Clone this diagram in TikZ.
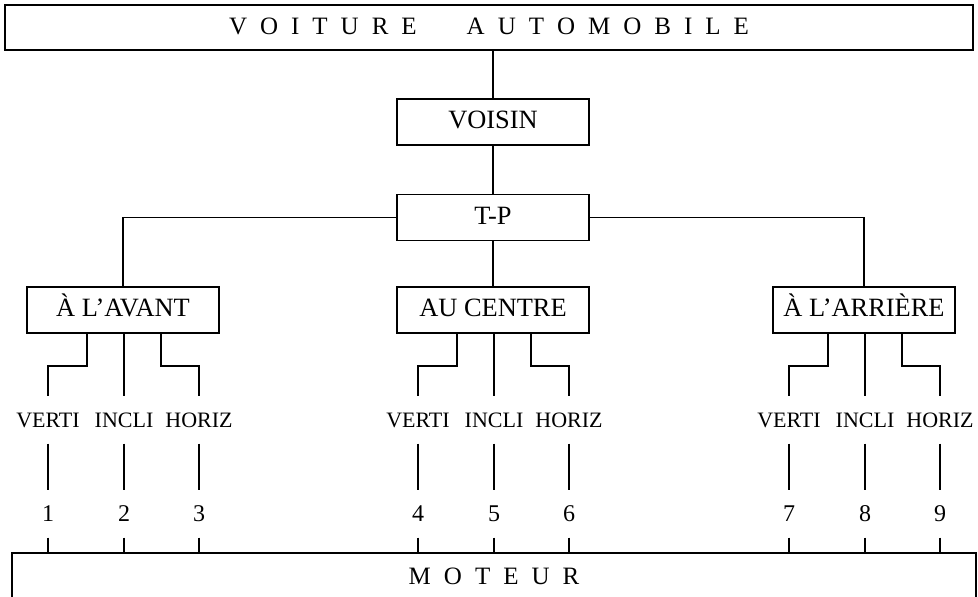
\documentclass[tikz,border=0pt]{standalone}
\usepackage{fontspec}
\setmainfont{Liberation Serif}
\usetikzlibrary{positioning}

\newcommand{\lsp}{\hspace{0.52em}}

\tikzset{
  box/.style={draw, inner sep=0pt, minimum width=96pt, minimum height=23pt,
    text height=0.7em, text depth=0pt, font=\fontsize{13.2}{15}\selectfont},
  lbl/.style={inner sep=0pt, minimum height=23pt, text height=0.8em, text depth=0pt,
    font=\fontsize{11}{13}\selectfont},
  num/.style={inner sep=0pt, minimum height=23pt, text height=0.75em, text depth=0pt,
    font=\fontsize{12}{14}\selectfont},
}

\begin{document}
\begin{tikzpicture}[x=0.5pt, y=-0.5pt, line width=0.7pt]
  \clip (0,0) rectangle (978,597);

  % Frames at top and bottom.
  \node[box, minimum width=484pt, minimum height=22.5pt, font=\fontsize{12.5}{15}\selectfont] (car) at (489,27.5)
    {V\lsp O\lsp I\lsp T\lsp U\lsp R\lsp E\hspace{2em}A\lsp U\lsp T\lsp O\lsp M\lsp O\lsp B\lsp I\lsp L\lsp E};
  \node[box, minimum width=482pt, minimum height=24pt, font=\fontsize{12.5}{15}\selectfont] (motor) at (494,577)
    {M\lsp O\lsp T\lsp E\lsp U\lsp R};

  % Main column.
  \node[box] (voisin) at (493,122) {VOISIN};
  \node[box, below=24pt of voisin] (tp) {T-P};

  \node[box] (avant) at (123,310) {À L'AVANT};
  \node[box] (centre) at (493,310) {AU CENTRE};
  \node[box, minimum width=91pt] (arriere) at (864,310) {À L'ARRIÈRE};

  \draw (voisin.north |- car.south) -- (voisin.north);
  \draw (voisin) -- (tp);
  \draw (tp) -- (centre);
  \draw (tp.west) -| (avant.north);
  \draw (tp.east) -| (arriere.north);

  % Three positions per group.
  \coordinate (elbow) at (0,366);
  \coordinate (numrow) at (0,514);
  \foreach \g/\x/\a/\b/\c in {avant/123/1/2/3, centre/493/4/5/6, arriere/864/7/8/9}{
    \node[lbl] (lab\a) at (\x-75,420) {VERTI};
    \node[lbl] (lab\b) at (\x+1,420) {INCLI};
    \node[lbl] (lab\c) at (\x+76,420) {HORIZ};
    \draw ([xshift=-18pt]\g.south) -- ([xshift=-18pt]\g.south |- elbow) -| (lab\a.north);
    \draw (lab\b.north |- \g.south) -- (lab\b.north);
    \draw ([xshift=19pt]\g.south) -- ([xshift=19pt]\g.south |- elbow) -| (lab\c.north);
  }

  % Numbers down to the engine.
  \foreach \i in {1,...,9}{
    \node[num] (n\i) at (lab\i |- numrow) {\i};
    \draw (lab\i) -- (n\i);
    \draw (n\i) -- (n\i |- motor.north);
  }
\end{tikzpicture}
\end{document}
